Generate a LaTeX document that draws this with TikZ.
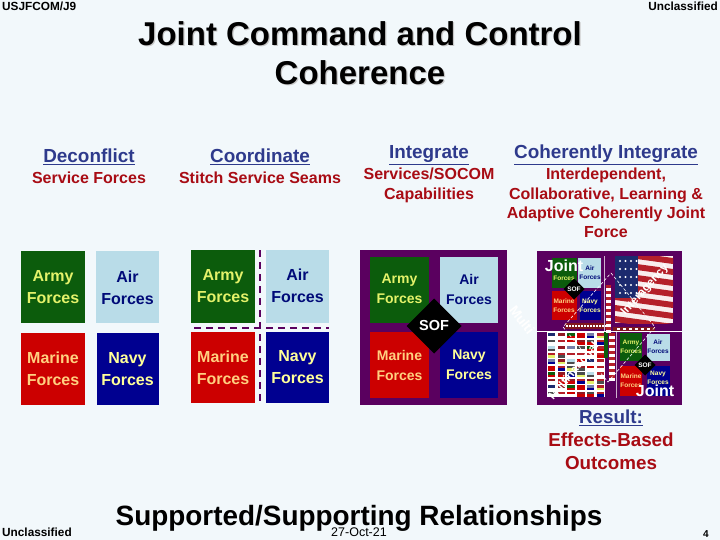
\documentclass[tikz,border=0pt]{standalone}
\usepackage{fontspec}
\setmainfont{Liberation Sans}
\usepackage{xcolor}
\usetikzlibrary{positioning,calc}
\usetikzlibrary{shapes.geometric}

\definecolor{pagebg}{HTML}{F2F8FB}
\definecolor{armygreen}{HTML}{0C5C0C}
\definecolor{armytext}{HTML}{E4F26A}
\definecolor{airblue}{HTML}{B9DCE8}
\definecolor{airtext}{HTML}{000A78}
\definecolor{marinered}{HTML}{CC0000}
\definecolor{marinetext}{HTML}{FFD080}
\definecolor{navyblue}{HTML}{000090}
\definecolor{navytext}{HTML}{FFFF99}
\definecolor{panelpurple}{HTML}{5A005F}
\definecolor{headblue}{HTML}{2E3A8C}
\definecolor{bodyred}{HTML}{A80C14}
\definecolor{flagred}{HTML}{B5202A}
\definecolor{flagblue}{HTML}{1C2A6E}

\newcommand{\fsize}[2]{\fontsize{#1}{#2}\selectfont}

\tikzset{
    forcebox/.style={inner sep=0pt,outer sep=0pt,align=center,font=\fsize{16}{22}\bfseries},
    minibox/.style={inner sep=0pt,outer sep=0pt,align=center,font=\fsize{6.5}{9}\bfseries},
    heading/.style={text=headblue,font=\fsize{18.9}{20}\bfseries,inner sep=0pt},
    bodytext/.style={text=bodyred,font=\fsize{16}{19.3}\bfseries,align=center,inner sep=0pt},
    sofmark/.style={diamond,fill=black,text=white,inner sep=0pt,outer sep=0pt,aspect=1,font=\bfseries},
    cornertext/.style={inner sep=0pt,font=\fsize{11.8}{13}\bfseries},
    rimtext/.style={text=white,inner sep=0pt,font=\fsize{11.5}{12}\bfseries},
}

\begin{document}
\begin{tikzpicture}[x=1pt,y=-1pt]
    \useasboundingbox (0,0) rectangle (720,540);
    \fill[pagebg] (0,0) rectangle (720,540);

    % corners
    \node[cornertext,anchor=west] (topleft) at (2,6) {USJFCOM/J9};
    \node[cornertext,anchor=east] (topright) at (718,6) {Unclassified};
    \node[cornertext,anchor=west] (botleft) at (2,532) {Unclassified};
    \node[inner sep=0pt,font=\fsize{12.5}{14}] (datemark) at (359,532) {27-Oct-21};
    \node[inner sep=0pt,font=\fsize{10}{12}\bfseries] (pagenum) at (706,534) {4};

    % title
    \node[align=center,text=black!22,font=\fsize{33}{38.5}\bfseries,inner sep=0pt] (titleshade) at (361.2,54.2) {Joint Command and Control\\Coherence};
    \node[align=center,font=\fsize{33}{38.5}\bfseries,inner sep=0pt] (title) at (360,53) {Joint Command and Control\\Coherence};

    % column heads
    \node[heading] (deconflict) at (89,157) {\underline{Deconflict}};
    \node[heading] (coordinate) at (260,157) {\underline{Coordinate}};
    \node[heading] (integrate) at (429,155) {\underline{Integrate}};
    \node[heading] (coherent) at (606,155) {\underline{Coherently Integrate}};
    \node[bodytext] (serviceforces) at (89,178) {Service Forces};
    \node[bodytext] (stitchseams) at (260,178) {Stitch Service Seams};
    \node[bodytext,anchor=north] (socom) at (429,168) {Services/SOCOM\\Capabilities};
    \node[bodytext,anchor=north] (interdep) at (606,168) {Interdependent,\\Collaborative, Learning \&\\Adaptive Coherently Joint\\Force};

    % deconflict
    \fill[armygreen] (21,251) rectangle (85,323);
    \fill[airblue] (96,251) rectangle (159,323);
    \fill[marinered] (21,333) rectangle (85,405);
    \fill[navyblue] (97,333) rectangle (159,405);
    \node[forcebox,text=armytext] (armyA) at (53,287.5) {Army\\Forces};
    \node[forcebox,text=airtext] (airA) at (127.5,287.5) {Air\\Forces};
    \node[forcebox,text=marinetext] (marineA) at (53,369) {Marine\\Forces};
    \node[forcebox,text=navytext] (navyA) at (127.5,369) {Navy\\Forces};

    % coordinate
    \fill[armygreen] (191,250) rectangle (255,323);
    \fill[airblue] (266,250) rectangle (329,323);
    \fill[marinered] (191,332) rectangle (255,403);
    \fill[navyblue] (266,332) rectangle (329,403);
    \node[forcebox,text=armytext] (armyB) at (223,286) {Army\\Forces};
    \node[forcebox,text=airtext] (airB) at (297.5,286) {Air\\Forces};
    \node[forcebox,text=marinetext] (marineB) at (223,367.5) {Marine\\Forces};
    \node[forcebox,text=navytext] (navyB) at (297.5,367.5) {Navy\\Forces};
    \draw[panelpurple,line width=1.5pt,dash pattern=on 7pt off 5pt] (260,250) -- (260,404);
    \draw[panelpurple,line width=1.5pt,dash pattern=on 7pt off 5pt] (194,328) -- (329,328);

    % integrate
    \fill[panelpurple] (360,250) rectangle (507,405);
    \fill[armygreen] (370,257) rectangle (429,323);
    \fill[airblue] (440,257) rectangle (498,323);
    \fill[marinered] (370,332) rectangle (429,398);
    \fill[navyblue] (440,332) rectangle (498,398);
    \node[forcebox,text=armytext,font=\fsize{14}{20}\bfseries] (armyC) at (399.5,289) {Army\\Forces};
    \node[forcebox,text=airtext,font=\fsize{14}{20}\bfseries] (airC) at (469,289) {Air\\Forces};
    \node[forcebox,text=marinetext,font=\fsize{14}{20}\bfseries] (marineC) at (399.5,365) {Marine\\Forces};
    \node[forcebox,text=navytext,font=\fsize{14}{20}\bfseries] (navyC) at (469,365) {Navy\\Forces};
    \node[sofmark,minimum size=55pt,font=\fsize{14.5}{16}\bfseries] (sofC) at (434,326) {SOF};

    % coherently integrate
    \fill[panelpurple] (537,251) rectangle (682,405);
    % flag
    \begin{scope}
        \clip (615,256) rectangle (673,323);
        \fill[white!92!flagred] (615,256) rectangle (673,323);
        \foreach \i in {0,...,6}
            \fill[flagred] (615,250+\i*11) -- (673,258+\i*11) -- (673,264+\i*11) -- (615,256+\i*11) -- cycle;
        \fill[flagblue] (615,256) rectangle (638,298);
        \foreach \i in {0,...,3}
            \foreach \j in {0,...,4}
                \fill[white] (620+\i*5.5,261+\j*8) circle[radius=1.2pt];
    \end{scope}
    % flag grid
    \fill[white] (547,332) rectangle (605,397);
    \foreach \r in {0,...,9}
        \foreach \c in {0,...,5} {
            \pgfmathparse{{"flagblue","flagred","armygreen","black!70","flagblue!60","flagred!80!black","airblue","marinered"}[int(mod(\r*3+\c*5+\r*\c,8))]}
            \edef\gridcolor{\pgfmathresult}
            \pgfmathparse{{"white","marinered","black!70","white","navyblue","white","marinered","armytext"}[int(mod(\r*5+\c*3,8))]}
            \edef\gridsecond{\pgfmathresult}
            \fill[\gridcolor] (548+\c*9.7,333+\r*6.5) rectangle ++(7.4,5);
            \fill[\gridsecond] (548+\c*9.7,335.5+\r*6.5) rectangle ++(7.4,2.5);
        }
    \fill[armygreen] (604,332) rectangle (608,358);
    % joint minis
    \fill[armygreen] (552,258) rectangle (577,288);
    \fill[airblue] (578,258) rectangle (601,288);
    \fill[marinered] (552,291) rectangle (577,320);
    \fill[navyblue] (580,291) rectangle (601,320);
    \fill[armygreen] (620,333) rectangle (642,361);
    \fill[airblue] (647,334) rectangle (670,361);
    \fill[marinered] (620,366) rectangle (642,396);
    \fill[navyblue] (647,366) rectangle (670,396);
    \node[minibox,text=armytext] (armyD) at (564,278) {Forces};
    \node[minibox,text=airtext] (airD) at (590,273) {Air\\Forces};
    \node[minibox,text=marinetext] (marineD) at (564,306) {Marine\\Forces};
    \node[minibox,text=navytext] (navyD) at (590,306) {Navy\\Forces};
    \node[sofmark,minimum size=21pt,font=\fsize{6.5}{8}\bfseries] (sofD) at (574,289) {SOF};
    \node[minibox,text=armytext] (armyE) at (631,347) {Army\\Forces};
    \node[minibox,text=airtext] (airE) at (658,347) {Air\\Forces};
    \node[minibox,text=marinetext] (marineE) at (631,381) {Marine\\Forces};
    \node[minibox,text=navytext] (navyE) at (658,378) {Navy\\Forces};
    \node[sofmark,minimum size=21pt,font=\fsize{6.5}{8}\bfseries] (sofE) at (645,365) {SOF};
    % strips of flags
    \fill[flagred!70!black] (565,323) rectangle (611,329);
    \foreach \i in {0,...,14}
        \fill[white] (566+\i*3,324.5) rectangle ++(1.8,2.5);
    \fill[flagred!70!black] (613,327) rectangle (655,331);
    \foreach \i in {0,...,5}
        \fill[white] (617+\i*6,328) rectangle ++(3,1.6);
    \foreach \i in {0,...,7} {
        \fill[flagred] (606,285+\i*6) rectangle (611,288+\i*6);
        \fill[white] (606,288+\i*6) rectangle (611,291+\i*6);
    }
    \foreach \i in {0,...,7} {
        \fill[flagred] (609,333+\i*6) rectangle (615,336+\i*6);
        \fill[white] (609,336+\i*6) rectangle (615,339+\i*6);
    }
    % rim lines
    \draw[white,line width=.6pt] (537,331.5) -- (682,331.5);
    \draw[white!70!panelpurple,line width=.5pt] (604.5,256) -- (604.5,331);
    \draw[white!70!panelpurple,line width=.5pt] (616,332) -- (616,398);
    % dashed ring
    \coordinate (ringtop) at (611,273);
    \coordinate (ringright) at (655,327);
    \coordinate (ringbottom) at (608,382);
    \coordinate (ringleft) at (563,327);
    \draw[white,line width=.6pt,dash pattern=on 3pt off 2pt] (ringtop) -- (ringright) -- (ringbottom) -- (ringleft) -- cycle;
    \node[rimtext,rotate=48] (interagency) at (645,290) {Interagency};
    \node[rimtext,rotate=50] (multinational) at (573,371) {Multinational};
    \node[rimtext,rotate=-52,font=\fsize{13.5}{15}\bfseries] (multi) at (522,320) {Multi};
    \node[text=white,inner sep=0pt,font=\fsize{16}{18}\bfseries] (jointtop) at (564,266) {Joint};
    \node[text=white,inner sep=0pt,font=\fsize{16}{18}\bfseries] (jointbot) at (655,391) {Joint};

    % result
    \node[inner sep=0pt,text=headblue,font=\fsize{18.8}{20}\bfseries] (result) at (611,418) {\underline{Result:}};
    \node[inner sep=0pt,text=bodyred,font=\fsize{18.8}{20}\bfseries] (effects) at (611,440) {Effects-Based};
    \node[inner sep=0pt,text=bodyred,font=\fsize{18.8}{20}\bfseries] (outcomes) at (611,463) {Outcomes};

    % bottom line
    \node[inner sep=0pt,font=\fsize{27.9}{32}\bfseries] (supported) at (359,518) {Supported/Supporting Relationships};
\end{tikzpicture}
\end{document}
